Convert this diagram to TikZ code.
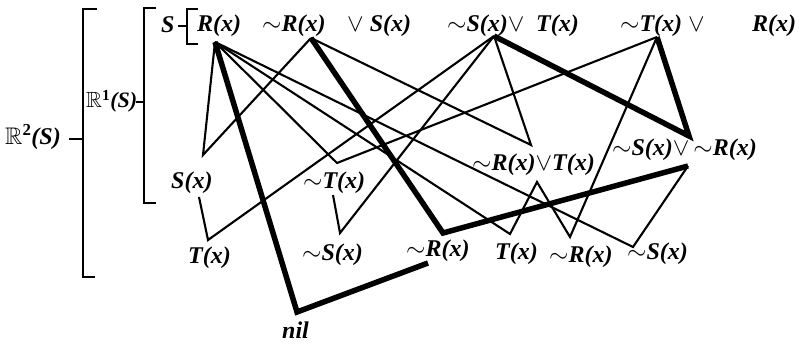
\documentclass[tikz,border=0pt]{standalone}
\usepackage{amssymb}
\usepackage{fontspec}
\setmainfont{Liberation Serif}[ItalicFont={Liberation Serif Italic},BoldItalicFont={Liberation Serif Bold Italic}]
\begin{document}
\begin{tikzpicture}[x=1pt,y=-1pt,
  lbl/.style={anchor=base west,inner sep=0pt,font=\fontsize{24}{28}\selectfont\bfseries\itshape},
  thinedge/.style={line width=2.1pt,line join=miter},
  thickedge/.style={line width=5.5pt,line join=miter},
  brk/.style={line width=2.6pt}]
\useasboundingbox (0,0) rectangle (805,344);
% bracket labels
\node[lbl] (r2) at (5,145) {$\mathbb{R}^{\mathbf{2}}$(S)};
\node[lbl,font=\fontsize{22}{26}\selectfont\bfseries\itshape] (r1) at (86,108) {$\mathbb{R}^{\mathbf{1}}$(S)};
\node[lbl] (s) at (161,33) {S};
% brackets
\draw[brk] (97,9) -- (83,9) -- (83,277) -- (95,277);
\draw[brk] (69,139) -- (83,139);
\draw[brk] (156,8) -- (144,8) -- (144,203) -- (156,203);
\draw[brk] (136,102) -- (144,102);
\draw[brk] (198,9) -- (187,9) -- (187,44) -- (198,44);
\draw[brk] (178,26) -- (187,26);
% clause labels
\node[lbl] (lA) at (197,32) {R(x)};
\node[lbl] (lB) at (262,32) {$\sim$R(x)};
\node[lbl] (lB2) at (347,32) {$\vee$ S(x)};
\node[lbl] (lC) at (447,32) {$\sim$S(x)$\vee$};
\node[lbl] (lC2) at (536,32) {T(x)};
\node[lbl] (lD) at (620,32) {$\sim$T(x) $\vee$};
\node[lbl] (lD2) at (752,32) {R(x)};
\node[lbl] (lE) at (171,189) {S(x)};
\node[lbl] (lH) at (303,189) {$\sim$T(x)};
\node[lbl] (lF) at (472,171) {$\sim$R(x)$\vee$T(x)};
\node[lbl] (lG) at (612,156) {$\sim$S(x)$\vee$\,$\sim$R(x)};
\node[lbl] (lT2) at (188,264) {T(x)};
\node[lbl] (lS2) at (302,261) {$\sim$S(x)};
\node[lbl] (lR2) at (406,257) {$\sim$R(x)};
\node[lbl] (lT3) at (495,260) {T(x)};
\node[lbl] (lR3) at (549,263) {$\sim$R(x)};
\node[lbl] (lS3) at (627,260) {$\sim$S(x)};
\node[lbl] (lN) at (282,338) {nil};
% junction points
\coordinate (A) at (215,42);
\coordinate (B) at (311,38);
\coordinate (C) at (494,36);
\coordinate (D) at (657,37);
\coordinate (E) at (203,155);
\coordinate (H) at (337,163);
\coordinate (F) at (531,145);
\coordinate (G) at (689,136);
\coordinate (Eb) at (199,197);
\coordinate (Hb) at (333,195);
\coordinate (Fb) at (537,182);
\coordinate (Gb) at (688,166);
\coordinate (T2) at (208,240);
\coordinate (S2) at (340,233);
\coordinate (R2) at (443,233);
\coordinate (T3) at (510,234);
\coordinate (R3) at (570,237);
\coordinate (S3) at (633,247);
\coordinate (R2b) at (428,263);
\coordinate (N) at (297,312);
% thin edges
\draw[thinedge] (A) -- (E) -- (B);
\draw[thinedge] (A) -- (H) -- (D);
\draw[thinedge] (B) -- (F) -- (C);
\draw[thinedge] (Eb) -- (T2) -- (C);
\draw[thinedge] (Hb) -- (S2) -- (C);
\draw[thinedge] (A) -- (T3) -- (Fb) -- (R3) -- (D);
\draw[thinedge] (Gb) -- (S3) -- (A);
% thick edges
\draw[thickedge] (A) -- (N) -- (R2b);
\draw[thickedge] (B) -- (R2) -- (Gb);
\draw[thickedge] (C) -- (G) -- (D);
\end{tikzpicture}
\end{document}
